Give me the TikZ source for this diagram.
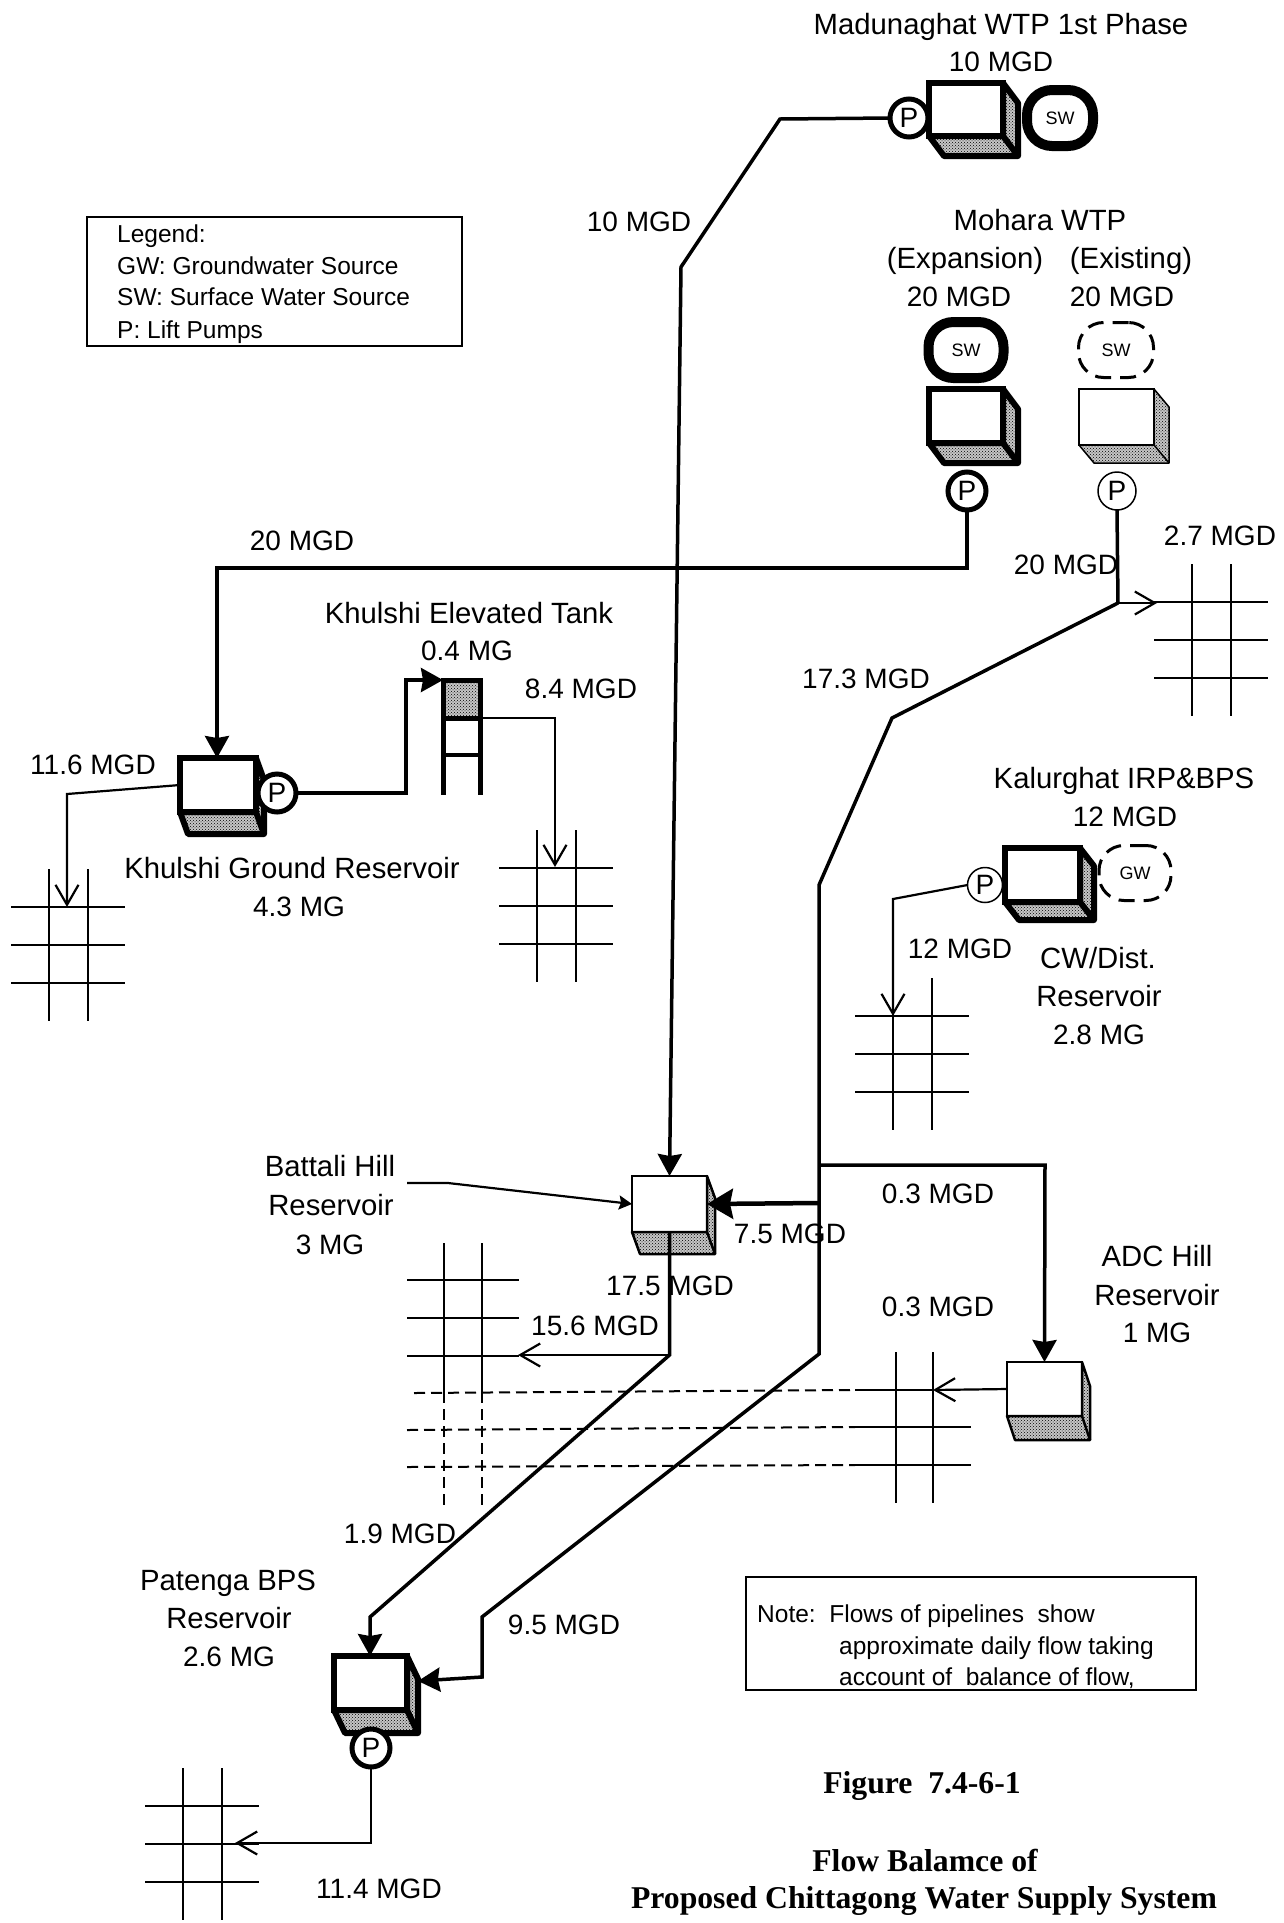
\documentclass[tikz,border=0pt]{standalone}
\usepackage{fontspec}
\usepackage{tikz}
\usetikzlibrary{arrows.meta,patterns}
\setmainfont{Liberation Sans}
\newfontfamily\capfont{Liberation Serif}

\tikzset{
    lbl/.style={inner sep=0pt, text height=20pt, text depth=0pt, font=\fontsize{28}{30}\selectfont},
    namelbl/.style={lbl, font=\fontsize{29.3}{31}\selectfont},
    lgd/.style={inner sep=0pt, anchor=west, text height=18pt, text depth=0pt, font=\fontsize{24.5}{26}\selectfont},
    captxt/.style={inner sep=0pt, text height=20pt, text depth=0pt, font=\capfont\bfseries\fontsize{31.7}{33}\selectfont},
    pump/.style={circle, draw, fill=white, inner sep=0pt, minimum size=38pt, outer sep=0pt, font=\fontsize{28}{30}\selectfont},
    src/.style={rectangle, rounded corners=25pt, draw, fill=white, inner sep=0pt, outer sep=0pt, font=\fontsize{18}{20}\selectfont},
    pipe/.style={line width=3.5pt},
    thinpipe/.style={line width=2.2pt},
    bigtip/.style={-{Stealth[length=22pt,width=24pt,inset=2pt]}},
    hugetip/.style={-{Stealth[length=26pt,width=30pt,inset=3pt]}},
    opentip/.style={-{Straight Barb[length=20pt,width=23pt]}},
    smalltip/.style={-{Stealth[length=13pt,width=14pt,inset=2pt]}},
    gridline/.style={line width=2.2pt},
    gridgap/.style={line width=2pt, dash pattern=on 11pt off 6pt},
    dotted face/.style={preaction={fill=gray!45}, pattern=crosshatch dots}
}

\newcommand{\tank}[8]{
    \node[draw, fill=white, line width=#8, inner sep=0pt, outer sep=0pt, anchor=north west,
          minimum width=#4 pt, minimum height=#5 pt] (#1) at (#2,#3) {};
    \draw[line width=#8, line join=round, dotted face]
        (#1.north east) -- ++(#6,#7) -- ++(0,#5) -- ++(-#4,0) -- (#1.south west) -- (#1.south east) -- cycle;
    \draw[line width=#8] (#1.south east) -- ++(#6,#7);
}

\begin{document}
\begin{tikzpicture}[x=1pt,y=-1pt]

\fill[white] (0,0) rectangle (1283,1923);
\useasboundingbox (0,0) rectangle (1283,1923);

\foreach \gx/\gy in {1192/564, 49/869, 537/830, 893/978, 183/1768}{
    \draw[gridline] (\gx,\gy) -- (\gx,\gy+152);
    \draw[gridline] (\gx+39,\gy) -- (\gx+39,\gy+152);
    \foreach \dy in {38,76,114}{
        \draw[gridline] (\gx-38,\gy+\dy) -- (\gx+76,\gy+\dy);
    }
}

\foreach \gx in {444,482}{
    \draw[gridline] (\gx,1243) -- (\gx,1392);
    \draw[gridgap] (\gx,1392) -- (\gx,1505);
}
\foreach \gy in {1280,1318,1356}{
    \draw[gridline] (407,\gy) -- (519,\gy);
}
\foreach \xa/\gy/\gz in {414/1393/1390, 407/1430/1427, 407/1467/1465}{
    \draw[gridgap] (\xa,\gy) -- (855,\gz);
}
\foreach \gx in {896,933}{
    \draw[gridline] (\gx,1352) -- (\gx,1503);
}
\foreach \gy/\xb in {1390/933, 1427/971, 1465/971}{
    \draw[gridline] (855,\gy) -- (\xb,\gy);
}

\node[src, line width=3pt, dash pattern=on 16pt off 9pt, minimum width=72pt, minimum height=55pt] (kalGW) at (1135,873) {GW};

\tank{madunaghat}{929}{83}{74}{53}{15}{20}{6pt}
\tank{expansion}{929}{389}{74}{54}{15}{20}{6pt}
\tank{existing}{1079}{389}{75}{56}{15}{18}{1.5pt}
\tank{kalurghat}{1005}{848}{75}{54}{14}{18}{6pt}
\tank{ground}{180}{758}{76}{54}{8}{22}{6pt}
\tank{battali}{632}{1176}{75}{56}{8}{22}{2.5pt}
\tank{adc}{1007}{1362}{75}{54}{8}{24}{2.5pt}
\tank{patenga}{334}{1656}{73}{54}{11}{23}{6pt}

\node[src, line width=10pt, minimum width=66pt, minimum height=56pt] (madSW) at (1060,118) {SW};
\node[src, line width=10pt, minimum width=75pt, minimum height=56pt] (expSW) at (966,350) {SW};
\node[src, line width=3pt, dash pattern=on 16pt off 9pt, minimum width=75pt, minimum height=55pt] (exiSW) at (1116,350) {SW};

\node[pump, line width=5pt] (madP) at (909,118) {P};
\node[pump, line width=5pt] (expP) at (967,491) {P};
\node[pump, line width=1.5pt] (exiP) at (1117,491) {P};
\node[pump, line width=1.5pt, minimum size=35pt] (kalP) at (985,885) {P};
\node[pump, line width=5pt] (gndP) at (277,793) {P};
\node[pump, line width=5pt] (patP) at (371,1748) {P};

\node[draw, line width=5pt, dotted face, inner sep=0pt, outer sep=0pt, minimum width=37pt, minimum height=38pt, anchor=north west] (towerTop) at (443,680) {};
\draw[line width=5pt] (towerTop.south west) -- ++(0,77);
\draw[line width=5pt] (towerTop.south east) -- ++(0,77);
\draw[line width=4pt] (443,755) -- (480,755);

\coordinate (madBendA) at (780,119);
\coordinate (madBendB) at (681,267);
\draw[pipe,bigtip] (madP.west) -- (madBendA) -- (madBendB) -- (battali.north);

\coordinate (expBendA) at (967,568);
\coordinate (expBendB) at (217,568);
\draw[pipe,bigtip] (expP.south) -- (expBendA) -- (expBendB) -- (ground.north -| expBendB);

\coordinate (gndBend) at (406,793);
\coordinate (towerIn) at (406,680);
\draw[pipe,bigtip] (gndP.east) -- (gndBend) -- (towerIn) -- (towerTop.north west);

\coordinate (gndOut) at (67,794);
\coordinate (gridGnd) at (67,907);
\draw[thinpipe,opentip] (ground.west |- 0,785) -- (gndOut) -- (gridGnd);

\coordinate (towerOut) at (555,718);
\coordinate (gridTower) at (555,867);
\draw[thinpipe,opentip] (towerTop.south east) -- (towerOut) -- (gridTower);

\coordinate (junction) at (1118,603);
\coordinate (gridNE) at (1157,603);
\draw[pipe] (exiP.south) -- (junction);
\draw[thinpipe,opentip] (junction) -- (gridNE);

\coordinate (mainA) at (892,718);
\coordinate (mainB) at (819,885);
\coordinate (mainC) at (819,1354);
\coordinate (mainD) at (482,1617);
\coordinate (mainE) at (482,1677);
\coordinate (patSide) at (418,1681);
\draw[pipe,bigtip] (junction) -- (mainA) -- (mainB) -- (mainC) -- (mainD) -- (mainE) -- (patSide);

\coordinate (mainF) at (819,1203);
\draw[line width=4.5pt,hugetip] (mainF) -- (battali.east);

\coordinate (mainG) at (819,1165);
\coordinate (adcIn) at (1045,1165);
\draw[pipe,bigtip] (mainG) -- (adcIn) -- (adc.north);

\coordinate (split) at (669.5,1355);
\coordinate (splitB) at (370,1617);
\draw[pipe,bigtip] (battali.south) -- (split) -- (splitB) -- (patenga.north -| splitB);

\coordinate (gridBat) at (518,1355);
\draw[thinpipe,opentip] (split) -- (gridBat);

\coordinate (gridAdc) at (933,1390);
\draw[thinpipe,opentip] (adc.west) -- (gridAdc);

\coordinate (patOut) at (371,1843);
\coordinate (gridPat) at (235,1843);
\draw[thinpipe,opentip] (patP.south) -- (patOut) -- (gridPat);

\coordinate (kalOut) at (893,899);
\coordinate (gridKal) at (893,1016);
\draw[thinpipe,opentip] (kalP.west) -- (kalOut) -- (gridKal);

\coordinate (batStart) at (407,1183);
\coordinate (batBend) at (448,1183);
\draw[thinpipe,smalltip] (batStart) -- (batBend) -- (battali.west);

\foreach \nm/\x/\y/\txt in {
a2/1001/61/{10 MGD},
a3/639/221/{10 MGD},
a7/959/296/{20 MGD},
a8/1122/296/{20 MGD},
b1/302/540/{20 MGD},
b3/467/650/{0.4 MG},
b4/581/688/{8.4 MGD},
b5/93/764/{11.6 MGD},
b7/299/906/{4.3 MG},
c1/1066/564/{20 MGD},
c2/1220/535/{2.7 MGD},
c3/866/678/{17.3 MGD},
c5/1125/816/{12 MGD},
c6/960/948/{12 MGD},
c9/1099/1034/{2.8 MG},
d3/330/1244/{3 MG},
d4/938/1193/{0.3 MGD},
d5/790/1233/{7.5 MGD},
d8/1157/1332/{1 MG},
d9/670/1285/{17.5 MGD},
e1/938/1306/{0.3 MGD},
e2/595/1325/{15.6 MGD},
e3/400/1533/{1.9 MGD},
e6/229/1656/{2.6 MG},
e7/564/1624/{9.5 MGD},
e8/379/1888/{11.4 MGD}
}{
    \node[lbl] (\nm) at (\x,\y) {\txt};
}

\foreach \nm/\x/\y/\txt in {
a1/1001/24/{Madunaghat WTP 1st Phase},
a4/1040/220/{Mohara WTP},
a5/965/258/{(Expansion)},
a6/1131/258/{(Existing)},
b2/469/613/{Khulshi Elevated Tank},
b6/292/868/{Khulshi Ground Reservoir},
c4/1124/778/{Kalurghat IRP\&BPS},
c7/1098/958/{CW/Dist.},
c8/1099/996/{Reservoir},
d1/330/1166/{Battali Hill},
d2/331/1205/{Reservoir},
d6/1157/1256/{ADC Hill},
d7/1157/1295/{Reservoir},
e4/228/1580/{Patenga BPS},
e5/229/1618/{Reservoir}
}{
    \node[namelbl] (\nm) at (\x,\y) {\txt};
}

\draw[line width=1.5pt] (87,217) rectangle (462,346);
\node[lgd] (lgdA) at (117,233) {Legend:};
\node[lgd] (lgdB) at (117,265) {GW: Groundwater Source};
\node[lgd] (lgdC) at (117,296) {SW: Surface Water Source};
\node[lgd] (lgdD) at (117,329) {P: Lift Pumps};

\draw[line width=1.5pt] (746,1577) rectangle (1196,1690);
\node[lgd] (noteA) at (757,1613) {Note:\ \ Flows of pipelines\ \ show};
\node[lgd] (noteB) at (839,1645) {approximate daily flow taking};
\node[lgd] (noteC) at (839,1676) {account of\ \ balance of flow,};

\node[captxt] (capA) at (922,1783) {Figure\ \ 7.4-6-1};
\node[captxt] (capB) at (925,1861) {Flow Balamce of};
\node[captxt] (capC) at (924,1898) {Proposed Chittagong Water Supply System};

\end{tikzpicture}
\end{document}
